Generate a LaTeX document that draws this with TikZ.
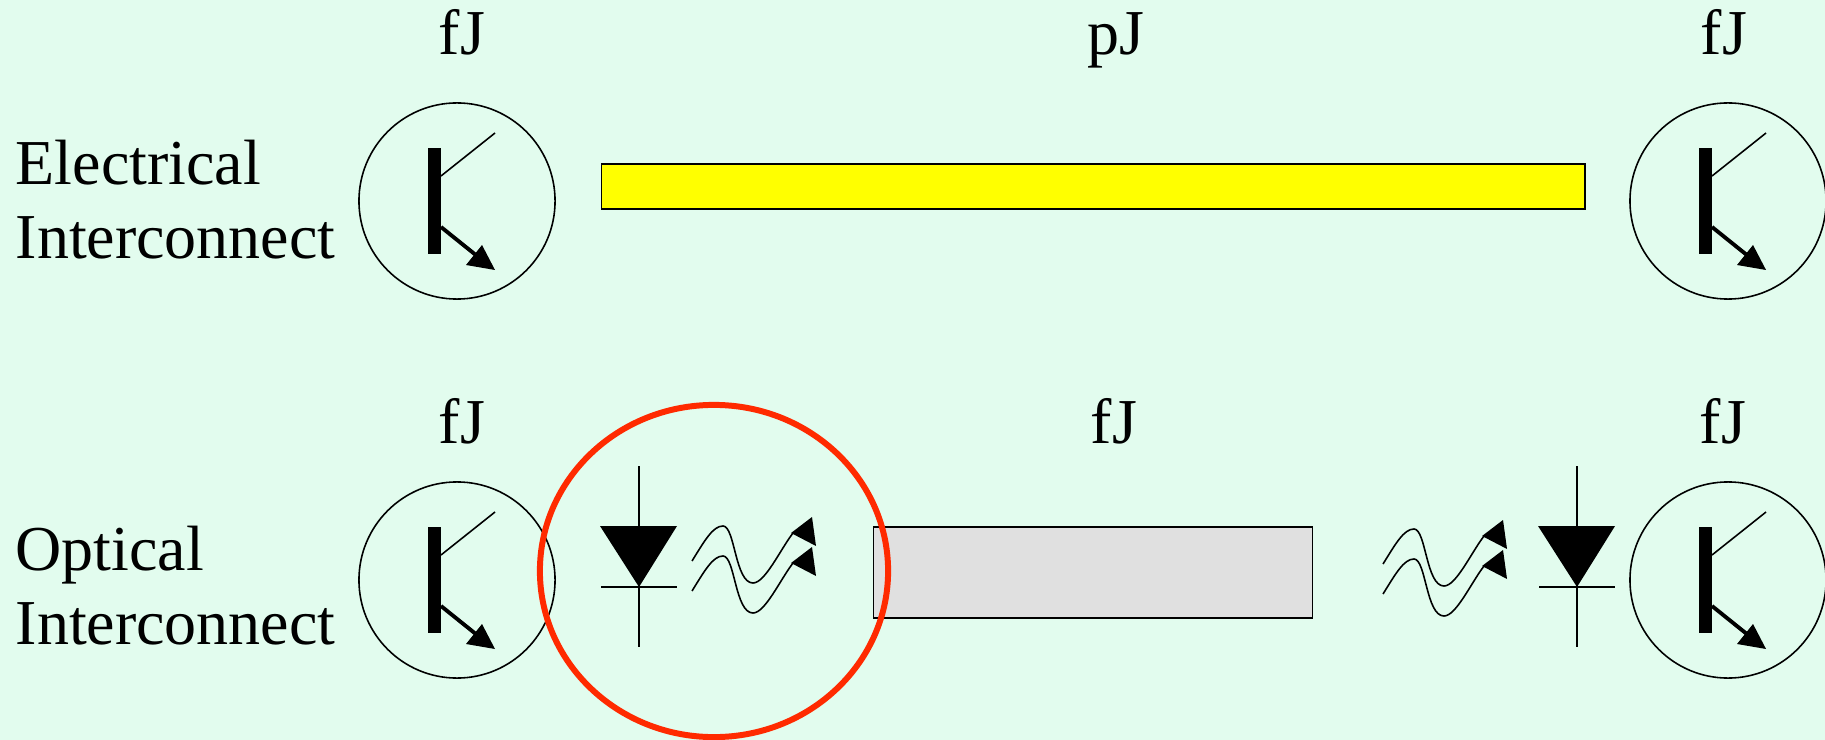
\documentclass[tikz,border=0pt]{standalone}
\usepackage{fontspec}
\usetikzlibrary{shapes.geometric}
\setmainfont{Liberation Serif}
\definecolor{bgmint}{HTML}{E2FCEE}
\definecolor{ringred}{HTML}{FF2A00}
\definecolor{fibergray}{HTML}{E0E0E0}
\definecolor{wireyellow}{HTML}{FFFF00}
\tikzset{
  pics/bjt/.style={code={
    \fill (-29,-53) rectangle (-16,53);
    \draw[thinline] (-16,-25)--(38,-68);
    \draw[line width=1.1pt] (-16,26)--(30,63);
    \fill (38,69)--(25,44)--(9,64)--cycle;
  }},
  pics/diode/.style={code={
    \fill (-39,-61)--(38,-61)--(0,0)--cycle;
    \draw[thinline] (0,-121)--(0,60);
    \draw[thinline] (-38,0)--(38,0);
  }},
  pics/lightwave/.style={code={
    \foreach \dy in {0,30} {
      \draw[thinline] (0,\dy) .. controls (13,\dy-21) and (21,\dy-35) .. (31,\dy-35)
        .. controls (43,\dy-35) and (43,\dy+22) .. (61,\dy+22)
        .. controls (73,\dy+22) and (88,\dy-11) .. (101,\dy-28);
      \fill (120,\dy-44)--(124,\dy-15)--(99,\dy-28)--cycle;
    }
  }}
}
\begin{document}
\begin{tikzpicture}
[x=0.01cm, y=-0.01cm, font=\fontsize{18.2}{21}\selectfont]
\tikzstyle{thinline}=[line width=0.45pt]
\tikzstyle{device}=[circle, draw, thinline, inner sep=0mm, minimum size=1.96cm]
\tikzstyle{energy}=[inner sep=0mm, anchor=base]
\tikzstyle{rowname}=[inner sep=0mm, align=left, anchor=west]
\tikzstyle{barbox}=[draw, thinline, inner sep=0mm, anchor=north west]
\useasboundingbox (0,0) rectangle (1825,740);
\fill[bgmint] (0,0) rectangle (1825,740);

\node[rowname]	(E0)	at (15,200)	{Electrical\\Interconnect};
\node[rowname]	(O0)	at (15,586)	{Optical\\Interconnect};

\node[energy]	(L1)	at (462,55)	{fJ};
\node[energy]	(L2)	at (1116,55)	{pJ};
\node[energy]	(L3)	at (1724,55)	{fJ};
\node[energy]	(L4)	at (462,443)	{fJ};
\node[energy]	(L5)	at (1114,443)	{fJ};
\node[energy]	(L6)	at (1723,443)	{fJ};

\node[device]	(T1)	at (457,201)	{};
\node[device]	(T2)	at (1728,201)	{};
\node[device]	(T3)	at (457,580)	{};
\node[device]	(T4)	at (1728,580)	{};
\pic at (T1) {bjt};
\pic at (T2) {bjt};
\pic at (T3) {bjt};
\pic at (T4) {bjt};

\node[barbox, fill=wireyellow, minimum width=9.83cm, minimum height=0.45cm]	(W1)	at (600.5,163)	{};
\node[barbox, fill=fibergray, minimum width=4.39cm, minimum height=0.91cm]	(F1)	at (872.5,526)	{};

\pic at (639,587) {diode};
\pic at (1577,587) {diode};
\pic at (692,561) {lightwave};
\pic at (1383,564) {lightwave};

\node[ellipse, draw=ringred, line width=1.7pt, inner sep=0mm, minimum width=3.48cm, minimum height=3.32cm]	(R1)	at (714,571)	{};
\end{tikzpicture}
\end{document}
